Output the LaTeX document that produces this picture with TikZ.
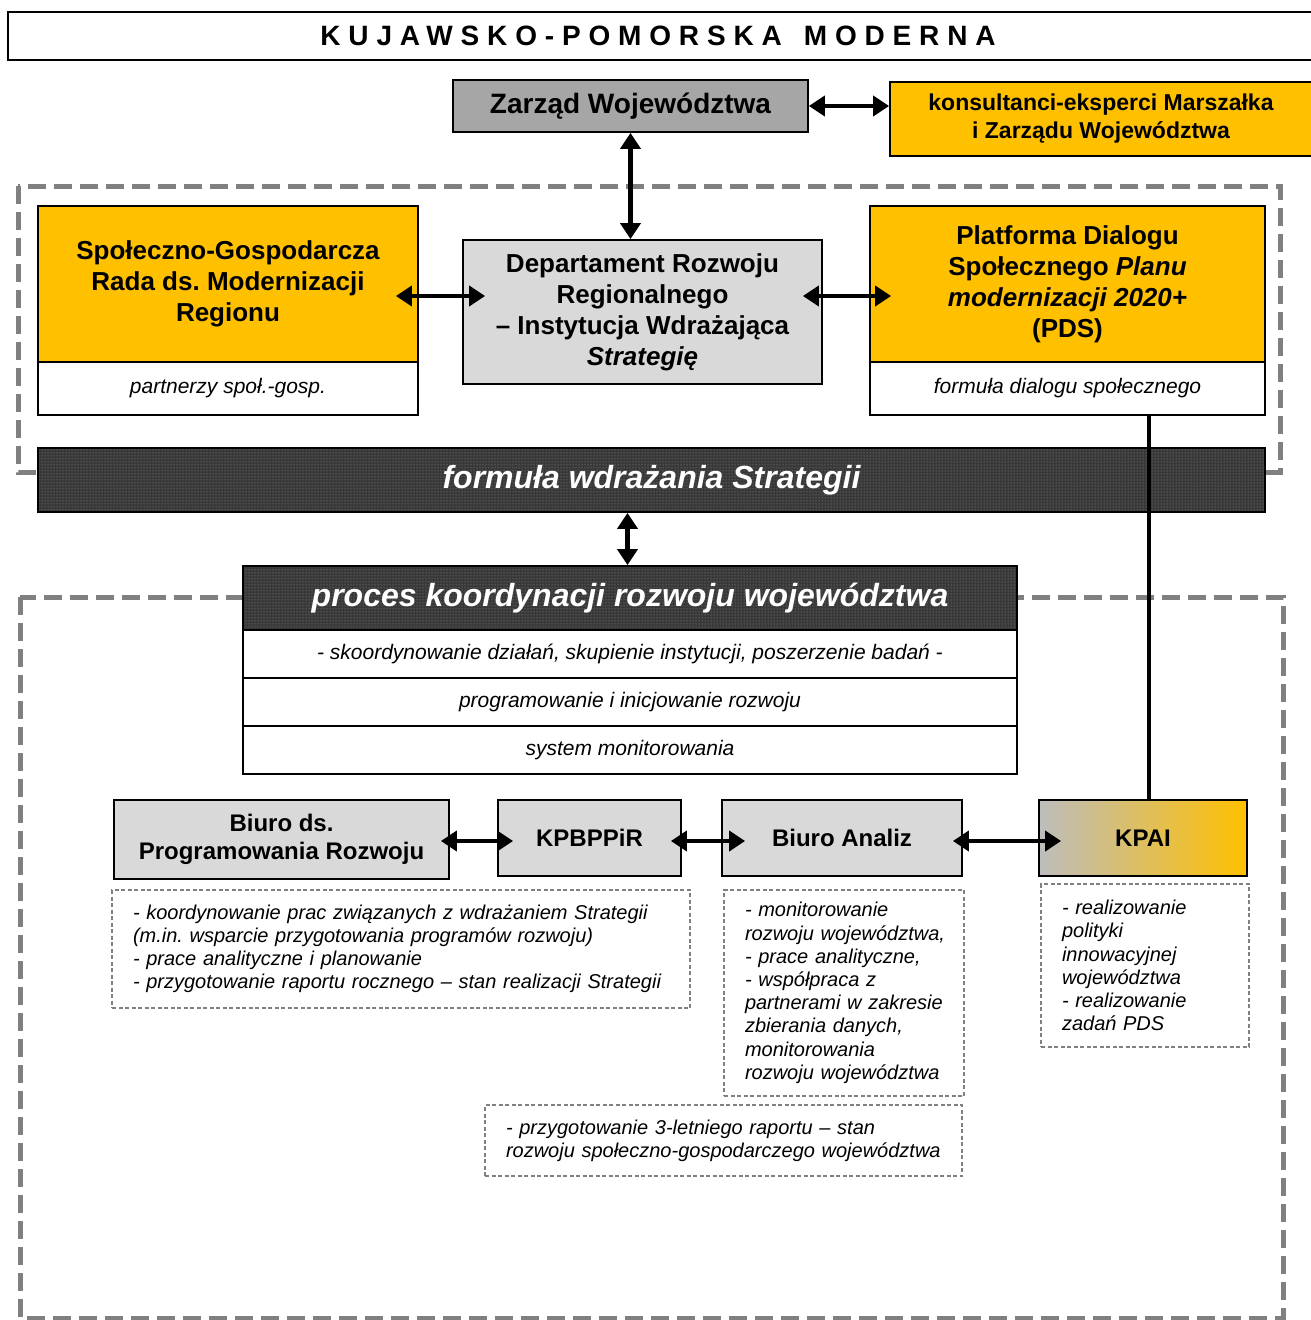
\documentclass[tikz,border=0pt]{standalone}
\usepackage{fontspec}
\setmainfont{Liberation Sans}
\newfontfamily\spacedfont[LetterSpace=28]{Liberation Sans}
\usetikzlibrary{arrows.meta,patterns}
\definecolor{zolty}{HTML}{FFC000}
\definecolor{jasny}{HTML}{D9D9D9}
\definecolor{sredni}{HTML}{A6A6A6}
\definecolor{ramka}{HTML}{808080}
\definecolor{kpaiszary}{HTML}{BDBDBD}
\frenchspacing
\hyphenpenalty=10000

\begin{document}
\begin{tikzpicture}[x=1pt,y=-1pt,
  blok/.style={draw,line width=1.8pt,inner sep=0pt,align=center},
  naglowek/.style={font=\fontsize{26}{31}\selectfont\bfseries},
  dolny/.style={font=\fontsize{24}{28}\selectfont\bfseries},
  opis/.style={font=\fontsize{21}{25}\selectfont\itshape},
  notka/.style={draw=ramka,line width=1.2pt,dash pattern=on 4pt off 2.5pt,inner xsep=16pt,inner ysep=0pt,align=left,font=\fontsize{20}{23.2}\selectfont\itshape},
  obszar/.style={draw=ramka,line width=5pt,dash pattern=on 18pt off 8pt},
  ciemny/.style={blok,preaction={fill=black!78},pattern=dots,pattern color=white!60!black,text=white,font=\fontsize{32}{36}\selectfont\bfseries\itshape},
  dwustr/.style={line width=4.5pt,{Triangle[length=16pt,width=20pt]}-{Triangle[length=16pt,width=20pt]}}]
\useasboundingbox (0,0) rectangle (1311,1320);
\clip (0,0) rectangle (1311,1320);

% naglowek
\draw[line width=2pt] (8,12) rectangle (1330,60);
\node[font=\fontsize{28}{32}\selectfont\bfseries\spacedfont] (tytul) at (658,36) {KUJAWSKO-POMORSKA\hspace{22pt}MODERNA};

% ramki przerywane
\draw[obszar] (18,186) rectangle (1280,472);
\draw[obszar] (20,597) rectangle (1283,1318);

% gora
\node[blok,fill=sredni,minimum width=355pt,minimum height=52pt,font=\fontsize{28}{32}\selectfont\bfseries] (zarzad) at (630.5,106) {\raisebox{-3pt}{Zarząd Województwa}};
\node[blok,fill=zolty,minimum width=422pt,minimum height=74pt,font=\fontsize{23}{28}\selectfont\bfseries] (eksperci) at (1101,119) {konsultanci-eksperci Marszałka\\i Zarządu Województwa};

\node[blok,naglowek,fill=zolty,minimum width=380pt,minimum height=156pt] (rada) at (228,284) {Społeczno-Gospodarcza\\Rada ds. Modernizacji\\Regionu};
\node[blok,opis,fill=white,minimum width=380pt,minimum height=53pt] (radab) at (228,388.5) {partnerzy społ.-gosp.};
\node[blok,naglowek,fill=jasny,minimum width=359pt,minimum height=144pt] (dep) at (642.5,312) {Departament Rozwoju\\Regionalnego\\– Instytucja Wdrażająca\\\textit{Strategię}};
\node[blok,naglowek,fill=zolty,minimum width=395pt,minimum height=156pt] (pds) at (1067.5,284) {Platforma Dialogu\\Społecznego \textit{Planu}\\\textit{modernizacji 2020+}\\(PDS)};
\node[blok,opis,fill=white,minimum width=395pt,minimum height=53pt] (pdsb) at (1067.5,388.5) {formuła dialogu społecznego};

\node[ciemny,minimum width=1227pt,minimum height=64pt] (wdrazanie) at (651.5,480) {formuła wdrażania Strategii};

% proces
\node[ciemny,minimum width=774pt,minimum height=64pt] (proces) at (630,598) {proces koordynacji rozwoju województwa};
\node[blok,opis,fill=white,minimum width=774pt,minimum height=48pt] (wiersz1) at (630,654) {- skoordynowanie działań, skupienie instytucji, poszerzenie badań -};
\node[blok,opis,fill=white,minimum width=774pt,minimum height=48pt] (wiersz2) at (630,702) {programowanie i inicjowanie rozwoju};
\node[blok,opis,fill=white,minimum width=774pt,minimum height=48pt] (wiersz3) at (630,750) {system monitorowania};

% biura
\node[blok,dolny,fill=jasny,minimum width=335pt,minimum height=79pt] (biuro) at (281.5,839.5) {Biuro ds.\\Programowania Rozwoju};
\node[blok,dolny,fill=jasny,minimum width=183pt,minimum height=76pt] (kpbppir) at (589.5,838) {KPBPPiR};
\node[blok,dolny,fill=jasny,minimum width=240pt,minimum height=76pt] (analiz) at (842,838) {Biuro Analiz};
\node[blok,dolny,left color=kpaiszary,right color=zolty,minimum width=208pt,minimum height=76pt] (kpai) at (1143,838) {KPAI};

% zadania
\node[notka,inner xsep=21pt,text width=536pt,minimum height=118pt] (zad1) at (401,949) {- koordynowanie prac związanych z wdrażaniem Strategii\\(m.in. wsparcie przygotowania programów rozwoju)\\- prace analityczne i planowanie\\- przygotowanie raportu rocznego – stan realizacji Strategii};
\node[notka,text width=208pt,minimum height=206pt] (zad2) at (844,993) {\hspace*{5pt}- monitorowanie\\\hspace*{5pt}rozwoju województwa,\\\hspace*{5pt}- prace analityczne,\\\hspace*{5pt}- współpraca z\\\hspace*{5pt}partnerami w zakresie\\\hspace*{5pt}zbierania danych,\\\hspace*{5pt}monitorowania\\\hspace*{5pt}rozwoju województwa};
\node[notka,inner xsep=21pt,text width=166pt,minimum height=163pt] (zad3) at (1145,965.5) {- realizowanie\\polityki\\innowacyjnej\\województwa\\- realizowanie\\zadań PDS};
\node[notka,inner xsep=21pt,text width=435pt,minimum height=71pt] (zad4) at (723.5,1140.5) {- przygotowanie 3-letniego raportu – stan\\rozwoju społeczno-gospodarczego województwa};

% polaczenia
\draw[dwustr] (zarzad.east) -- (zarzad.east -| eksperci.west);
\draw[dwustr] (zarzad.south) -- (zarzad.south |- dep.north);
\draw[dwustr,shorten <=-23pt,shorten >=-23pt] ([yshift=-12pt]rada.east) -- ([yshift=16pt]dep.west);
\draw[dwustr,shorten <=-20pt,shorten >=-22pt] ([yshift=16pt]dep.east) -- ([yshift=-12pt]pds.west);
\draw[dwustr] ([xshift=-24pt]wdrazanie.south) -- ([xshift=-24pt]wdrazanie.south |- proces.north);
\draw[dwustr,shorten <=-9pt,shorten >=-16pt] ([yshift=-3pt]biuro.east |- kpbppir.west) -- ([yshift=-3pt]kpbppir.west);
\draw[dwustr,shorten <=-11pt,shorten >=-24pt] ([yshift=-3pt]kpbppir.east) -- ([yshift=-3pt]analiz.west);
\draw[dwustr,shorten <=-10pt,shorten >=-23pt] ([yshift=-3pt]analiz.east) -- ([yshift=-3pt]kpai.west);
\draw[line width=4.5pt] ([xshift=6pt]kpai.north |- pdsb.south) -- ([xshift=6pt]kpai.north);
\end{tikzpicture}
\end{document}
